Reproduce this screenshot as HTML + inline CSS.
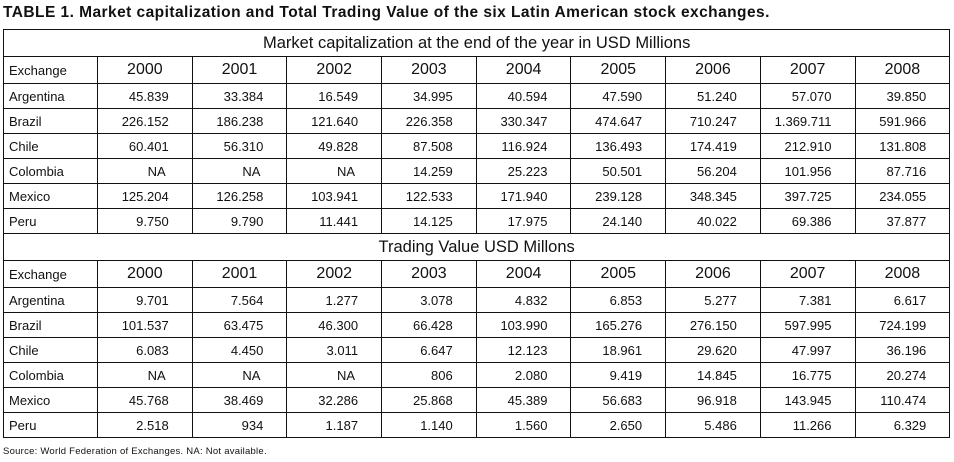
<!DOCTYPE html>
<html><head><meta charset="utf-8"><style>
body{margin:0;width:954px;height:462px;background:#fff;font-family:"Liberation Sans",sans-serif;color:#111;position:relative;overflow:hidden}
#title{position:absolute;left:3px;top:4px;font-size:15.5px;font-weight:bold;letter-spacing:0.45px;white-space:nowrap}
table{position:absolute;left:3px;top:29px;border-collapse:collapse;table-layout:fixed;width:946px}
td{border:1px solid #111;padding:0;font-size:13px;height:24px;text-align:right;padding-right:23px;white-space:nowrap}
td.n{text-align:left;padding-left:5px;padding-right:0}
tr.t td{text-align:center;padding:0;height:26px;font-size:16.5px}
tr.h td{height:26px;font-size:16px;text-align:center;padding:0}
tr.h td.n{font-size:13px;text-align:left;padding-left:5px}
#src{position:absolute;left:3px;top:446px;font-size:9.5px;letter-spacing:0.25px}
</style></head><body>
<div id="title">TABLE 1. Market capitalization and Total Trading Value of the six Latin American stock exchanges.</div>
<table>
<colgroup><col style="width:94px"><col span="9" style="width:94.7px"></colgroup>
<tbody id="tb"></tbody>
</table>
<div id="src">Source: World Federation of Exchanges. NA: Not available.</div>
<script>
const years=["2000","2001","2002","2003","2004","2005","2006","2007","2008"];
const exchanges=["Argentina","Brazil","Chile","Colombia","Mexico","Peru"];
const marketCap=[
["45.839","33.384","16.549","34.995","40.594","47.590","51.240","57.070","39.850"],
["226.152","186.238","121.640","226.358","330.347","474.647","710.247","1.369.711","591.966"],
["60.401","56.310","49.828","87.508","116.924","136.493","174.419","212.910","131.808"],
["NA","NA","NA","14.259","25.223","50.501","56.204","101.956","87.716"],
["125.204","126.258","103.941","122.533","171.940","239.128","348.345","397.725","234.055"],
["9.750","9.790","11.441","14.125","17.975","24.140","40.022","69.386","37.877"]];
const tradingValue=[
["9.701","7.564","1.277","3.078","4.832","6.853","5.277","7.381","6.617"],
["101.537","63.475","46.300","66.428","103.990","165.276","276.150","597.995","724.199"],
["6.083","4.450","3.011","6.647","12.123","18.961","29.620","47.997","36.196"],
["NA","NA","NA","806","2.080","9.419","14.845","16.775","20.274"],
["45.768","38.469","32.286","25.868","45.389","56.683","96.918","143.945","110.474"],
["2.518","934","1.187","1.140","1.560","2.650","5.486","11.266","6.329"]];
const tb=document.getElementById('tb');
function section(title,data,key){
  let tr=document.createElement('tr');tr.className='t';
  
  
  let td=document.createElement('td');td.colSpan=10;td.textContent=title;tr.appendChild(td);tb.appendChild(tr);
  tr=document.createElement('tr');tr.className='h';
  
  
  td=document.createElement('td');td.className='n';td.textContent='Exchange';tr.appendChild(td);
  years.forEach(y=>{const c=document.createElement('td');c.textContent=y;
    
    
    tr.appendChild(c);});
  tb.appendChild(tr);
  data.forEach((row,i)=>{
    const r=document.createElement('tr');
    
    
    const n=document.createElement('td');n.className='n';n.textContent=exchanges[i];r.appendChild(n);
    row.forEach(v=>{const c=document.createElement('td');c.textContent=v;if(v==='NA'){c.style.paddingRight='26px';}
      
      
      r.appendChild(c);});
    tb.appendChild(r);
  });
}
section('Market capitalization at the end of the year in USD Millions',marketCap,'market-cap');
section('Trading Value USD Millons',tradingValue,'trading-value');
</script>
</body></html>
